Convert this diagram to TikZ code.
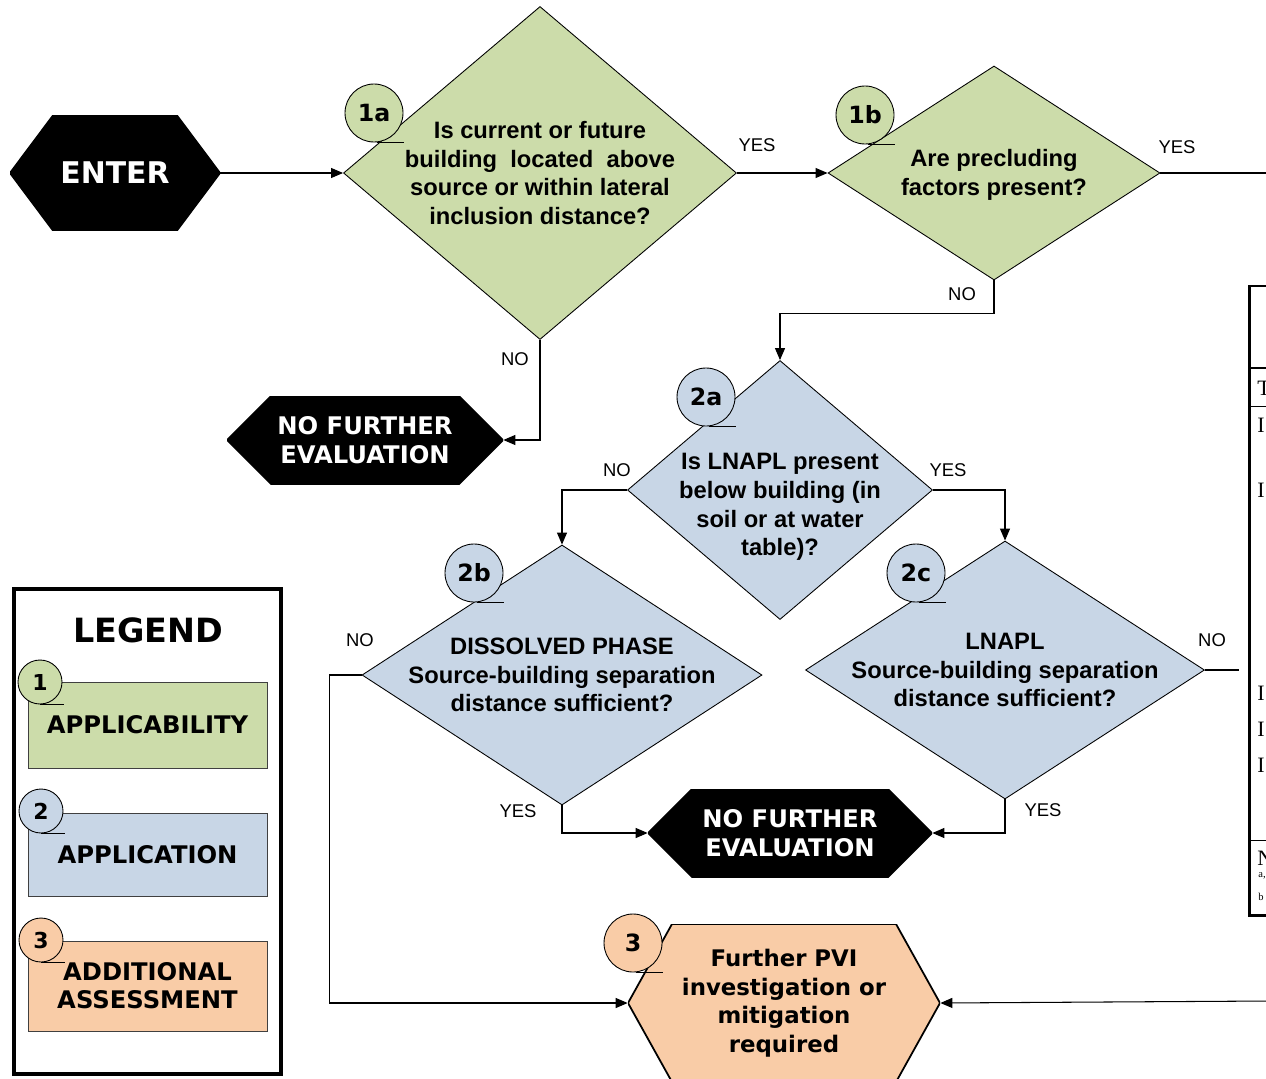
\documentclass[tikz,border=0pt]{standalone}
\usepackage{fontspec}
\setmainfont{Liberation Sans}
\newfontfamily\blackfont{DejaVu Sans}
\newfontfamily\tabfont{Liberation Serif}
\usetikzlibrary{calc, shapes.geometric, arrows.meta}
\definecolor{appgreen}{RGB}{204,220,170}
\definecolor{appblue}{RGB}{200,214,230}
\definecolor{apppeach}{RGB}{249,204,167}
\newcommand{\pu}{0.02cm}

\begin{document}
\begin{tikzpicture}[x=0.02cm, y=-0.02cm,
    flow/.style={line width=0.6pt, -{Triangle[length=2.4mm, width=2mm]}},
    link/.style={line width=0.6pt},
    dec/.style={diamond, draw, line width=0.5pt, inner sep=0pt, fill=#1},
    qtext/.style={align=center, font=\bfseries\fontsize{13.5}{16.3}\selectfont},
    badge/.style={circle, draw, line width=0.5pt, fill=#1, minimum size=58*\pu,
        inner sep=0pt, font=\blackfont\bfseries\fontsize{13.5}{14}\selectfont},
    ans/.style={font=\fontsize{10.5}{12}\selectfont},
    hexa/.style n args={3}{inner sep=0pt, align=center, path picture={
        \filldraw[fill=#2, draw=#3, line width=1pt] (path picture bounding box.west)
          -- ([xshift=#1*\pu]path picture bounding box.north west)
          -- ([xshift=-#1*\pu]path picture bounding box.north east)
          -- (path picture bounding box.east)
          -- ([xshift=-#1*\pu]path picture bounding box.south east)
          -- ([xshift=#1*\pu]path picture bounding box.south west) -- cycle;}},
    nfe/.style={hexa={44}{black}{black}, minimum height=88*\pu, text=white,
        font=\blackfont\bfseries\fontsize{13.8}{16.4}\selectfont},
    legbox/.style={rectangle, draw=black!75, line width=0.5pt, fill=#1,
        minimum width=239*\pu, inner sep=0pt, align=center,
        font=\blackfont\bfseries\fontsize{13.8}{15.9}\selectfont},
    tabcell/.style={anchor=west, inner sep=0pt, font=\tabfont\fontsize{12.5}{13}\selectfont}]
\useasboundingbox (0,0) rectangle (1266,1078);
\clip (0,0) rectangle (1266,1078);

% start and the applicability checks
\node[hexa={43}{black}{black}, minimum width=210*\pu, minimum height=115*\pu, text=white,
    font=\blackfont\bfseries\fontsize{17}{20}\selectfont] (enter) at (115,173) {ENTER};
\node[dec=appgreen, minimum width=393*\pu, minimum height=333*\pu] (q1a) at (540,173) {};
\node[qtext] (t1a) at (540,173) {Is current or future\\building\ \ located\ \ above\\source or within lateral\\inclusion distance?};
\node[dec=appgreen, minimum width=332*\pu, minimum height=214*\pu] (q1b) at (994,173) {};
\node[qtext] (t1b) at (994,175) {Are precluding\\factors present?};
\node[nfe, minimum width=276*\pu] (nfe1) at (365,440) {NO FURTHER\\EVALUATION};

% application
\node[dec=appblue, minimum width=305*\pu, minimum height=259*\pu] (q2a) at (780,490) {};
\node[qtext] (t2a) at (780,507) {Is LNAPL present\\below building (in\\soil or at water\\table)?};
\node[dec=appblue, minimum width=400*\pu, minimum height=260*\pu] (q2b) at (562,675) {};
\node[qtext] (t2b) at (562,675) {DISSOLVED PHASE\\Source-building separation\\distance sufficient?};
\node[dec=appblue, minimum width=399*\pu, minimum height=258*\pu] (q2c) at (1005,670) {};
\node[qtext] (t2c) at (1005,670) {LNAPL\\Source-building separation\\distance sufficient?};
\node[nfe, minimum width=284*\pu] (nfe2) at (790,833) {NO FURTHER\\EVALUATION};

% additional assessment
\node[hexa={44}{apppeach}{black}, minimum width=312*\pu, minimum height=158*\pu,
    font=\blackfont\bfseries\fontsize{13}{16.3}\selectfont] (pvi) at (784,1003)
    {Further PVI\\investigation or\\mitigation\\required};

% step badges
\foreach \nm/\cx/\cy/\col in {1a/374/113/appgreen, 1b/865/115/appgreen, 2a/706/397/appblue,
    2b/474/573/appblue, 2c/916/573/appblue, 3/633/943/apppeach} {
  \node[badge=\col] (b\nm) at (\cx,\cy) {\nm};
  \draw[link] ($(b\nm.south)+(3,0)$) -- ++(27,0);
}

% connectors
\coordinate (out1) at (1270,173);
\coordinate (out2) at (1239,670);
\coordinate (in3) at (1270,1001);
\draw[flow] (enter.east) -- (q1a.west);
\draw[flow] (q1a.east) -- (q1b.west);
\draw[link] (q1b.east) -- (out1);
\draw[flow] (q1a.south) |- (nfe1.east);
\draw[flow] (q1b.south) -- ++(0,33) -| (q2a.north);
\draw[flow] (q2a.west) -| (q2b.north);
\draw[flow] (q2a.east) -| (q2c.north);
\draw[flow] (q2b.south) |- (nfe2.west);
\draw[flow] (q2c.south) |- (nfe2.east);
\draw[flow] (q2b.west) -- ++(-32,0) |- (pvi.west);
\draw[link] (q2c.east) -- (out2);
\draw[flow] (in3) -- (pvi.east);

\node[ans] (y1) at (757,145) {YES};
\node[ans] (y2) at (1177,147) {YES};
\node[ans] (n1) at (515,359) {NO};
\node[ans] (n2) at (962,294) {NO};
\node[ans] (n3) at (617,470) {NO};
\node[ans] (y3) at (948,470) {YES};
\node[ans] (n4) at (360,640) {NO};
\node[ans] (y4) at (518,811) {YES};
\node[ans] (y5) at (1043,810) {YES};
\node[ans] (n5) at (1212,640) {NO};

% legend
\draw[line width=2.3pt] (14,589) rectangle (281,1074);
\node[font=\blackfont\bfseries\fontsize{19}{20}\selectfont] (legend) at (148,630) {LEGEND};
\node[legbox=appgreen, minimum height=86*\pu] (k1) at (147.5,725) {APPLICABILITY};
\node[legbox=appblue, minimum height=83*\pu] (k2) at (147.5,854.5) {APPLICATION};
\node[legbox=apppeach, minimum height=90*\pu] (k3) at (147.5,986) {ADDITIONAL\\ASSESSMENT};
\foreach \nm/\cx/\cy/\col in {1/40/682/appgreen, 2/41/811/appblue, 3/41/940/apppeach} {
  \node[badge=\col, minimum size=44*\pu, font=\blackfont\bfseries\fontsize{12.5}{12.5}\selectfont] (c\nm) at (\cx,\cy) {\nm};
  \draw[link] (c\nm.south) -- ++(24,0);
}

% table cut by the right edge
\draw[line width=1.7pt] (1272,286) -| (1249,915) -- (1272,915);
\draw[line width=1.7pt] (1249,368) -- (1272,368);
\draw[line width=0.4pt] (1249,406) -- (1272,406);
\draw[line width=0.4pt] (1249,840) -- (1272,840);
\foreach \y/\c in {388/T, 425/I, 490/I, 693/I, 729/I, 765/I, 858/N}
  \node[tabcell] (r\y) at (1257,\y) {\c};
\node[tabcell, font=\tabfont\fontsize{6}{6}\selectfont] (ra) at (1258,876) {a,};
\node[tabcell, font=\tabfont\fontsize{6}{6}\selectfont] (rb) at (1258,897) {b};
\end{tikzpicture}
\end{document}
